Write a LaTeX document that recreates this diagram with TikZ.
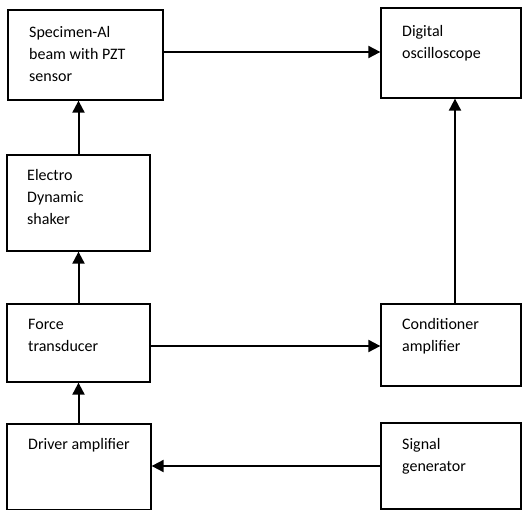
\documentclass[tikz,border=0pt]{standalone}
\usepackage{fontspec}
\setmainfont{Carlito}
\usetikzlibrary{arrows.meta}
\begin{document}
\begin{tikzpicture}[x=1bp,y=-1bp,
  blk/.style={draw=black,line width=1.3bp,rectangle,inner sep=0pt},
  txt/.style={anchor=north west,align=left,inner sep=0pt,font=\fontsize{16bp}{22bp}\selectfont},
  conn/.style={line width=2bp,-{Triangle[length=12bp,width=12bp]}}]
\useasboundingbox (0,0) rectangle (523,510);
% boxes
\node[blk,minimum width=155bp,minimum height=90bp] (spec) at (85.5,55) {};
\node[blk,minimum width=140bp,minimum height=90bp] (dig) at (451,53) {};
\node[blk,minimum width=143bp,minimum height=96bp] (shak) at (78.5,203) {};
\node[blk,minimum width=143bp,minimum height=78bp] (force) at (78.5,343) {};
\node[blk,minimum width=140bp,minimum height=82bp] (cond) at (451,345) {};
\node[blk,minimum width=144bp,minimum height=86bp] (drv) at (79,467) {};
\node[blk,minimum width=140bp,minimum height=86bp] (sig) at (451,466) {};
% texts
\node[txt] (t1) at (29,26) {Specimen-Al\\beam with PZT\\sensor};
\node[txt] (t2) at (402,25) {Digital\\oscilloscope};
\node[txt] (t3) at (27,169) {Electro\\Dynamic\\shaker};
\node[txt] (t4) at (28,319) {Force\\transducer};
\node[txt] (t5) at (402,318) {Conditioner\\amplifier};
\node[txt] (t6) at (28,438) {Driver amplifier};
\node[txt] (t7) at (402,438) {Signal\\generator};
% connectors
\draw[conn] ([yshift=3bp]spec.east) -- ([yshift=3bp]spec.east -| dig.west);
\draw[conn] (shak.north) -- (shak.north |- spec.south);
\draw[conn] (force.north) -- (force.north |- shak.south);
\draw[conn] (drv.north -| force.north) -- (force.south);
\draw[conn] ([yshift=-3bp]force.east) -- ([yshift=-3bp]force.east -| cond.west);
\draw[conn] ([xshift=4bp]cond.north) -- ([xshift=4bp]cond.north |- dig.south);
\draw[conn] (sig.west) -- (sig.west -| drv.east);
\end{tikzpicture}
\end{document}
